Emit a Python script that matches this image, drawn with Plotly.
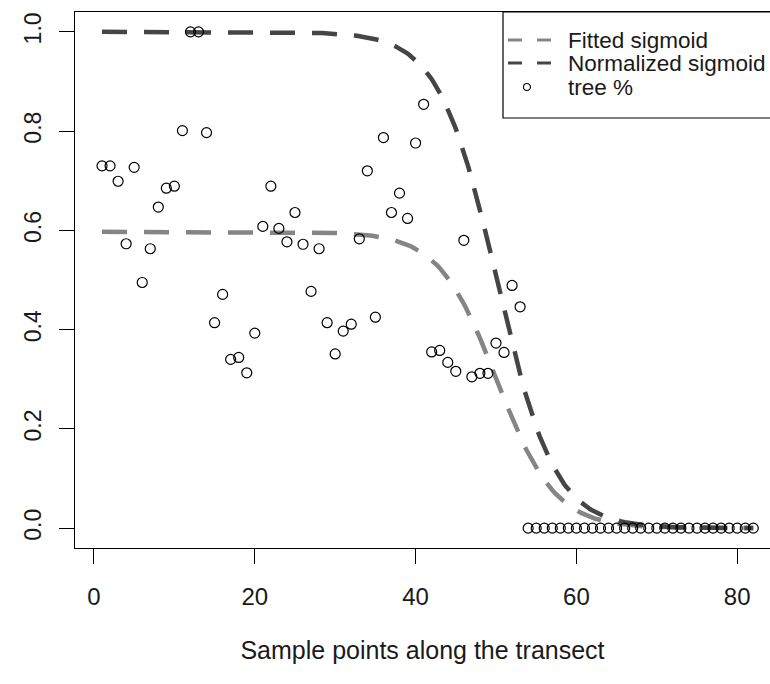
import numpy as np
import plotly.graph_objects as go

# Observed tree cover fraction at each sample point along the transect
sample_index = list(range(1, 83))
tree_pct = [
    0.730, 0.730, 0.699, 0.573, 0.727, 0.495, 0.563, 0.647, 0.685, 0.689,
    0.801, 1.000, 1.000, 0.797, 0.414, 0.471, 0.340, 0.344, 0.313, 0.393,
    0.608, 0.689, 0.604, 0.577, 0.636, 0.572, 0.477, 0.563, 0.414, 0.351,
    0.397, 0.411, 0.583, 0.720, 0.425, 0.787, 0.636, 0.675, 0.624, 0.776,
    0.854, 0.355, 0.358, 0.334, 0.316, 0.580, 0.305, 0.312, 0.312, 0.373,
    0.354, 0.489, 0.446,
] + [0.0] * 29

# Logistic fit parameters: plateau height, midpoint and scale
fitted_top = 0.597
midpoint = 50.1
scale = 3.6

x_ticks = [0, 20, 40, 60, 80]
y_ticks = [0.0, 0.2, 0.4, 0.6, 0.8, 1.0]
y_tick_text = ["0.0", "0.2", "0.4", "0.6", "0.8", "1.0"]

legend_labels = ["Fitted sigmoid", "Normalized sigmoid", "tree %"]

fitted_color = "#858585"
normalized_color = "#454545"
text_color = "#1a1a1a"
font_family = "Liberation Sans, Arial, sans-serif"

curve_x = np.linspace(1, 82, 300)
normalized_curve = 1.0 / (1.0 + np.exp((curve_x - midpoint) / scale))
fitted_curve = fitted_top * normalized_curve

fig = go.Figure()
fig.add_trace(go.Scatter(
    x=curve_x, y=fitted_curve, mode="lines", name=legend_labels[0],
    line=dict(color=fitted_color, width=4.5, dash="25px,17px"),
    showlegend=False,
))
fig.add_trace(go.Scatter(
    x=curve_x, y=normalized_curve, mode="lines", name=legend_labels[1],
    line=dict(color=normalized_color, width=4.5, dash="25px,17px"),
    showlegend=False,
))
fig.add_trace(go.Scatter(
    x=sample_index, y=tree_pct, mode="markers", name=legend_labels[2],
    marker=dict(symbol="circle-open", size=10, color="black",
                line=dict(width=1.2, color="black")),
    showlegend=False,
))

# Plot-area geometry in pixels, used to place the boxed key
W, H = 770, 684
ML, MR, MT, MB = 75, 0, 12, 136
pw, ph = W - ML - MR, H - MT - MB


def px_x(p):
    return (p - ML) / pw


def px_y(p):
    return (H - MB - p) / ph


shapes = [
    dict(type="rect", xref="paper", yref="paper",
         x0=px_x(503), x1=1.02, y0=px_y(118), y1=1.0,
         line=dict(color="black", width=1.2), fillcolor="white", layer="above"),
]
row_y = [40, 63, 87]
for yy, col in zip(row_y[:2], [fitted_color, normalized_color]):
    shapes.append(dict(type="line", xref="paper", yref="paper",
                       x0=px_x(508), x1=px_x(551), y0=px_y(yy), y1=px_y(yy),
                       line=dict(color=col, width=3, dash="14px,15px"),
                       layer="above"))
shapes.append(dict(type="circle", xref="paper", yref="paper",
                   xsizemode="pixel", ysizemode="pixel",
                   xanchor=px_x(527), yanchor=px_y(row_y[2]),
                   x0=-3.5, x1=3.5, y0=-3.5, y1=3.5,
                   line=dict(color="black", width=1.1), layer="above"))

annotations = [
    dict(xref="paper", yref="paper", x=px_x(566), y=px_y(yy),
         xanchor="left", yanchor="middle", text=lab, showarrow=False,
         font=dict(size=22.5, color=text_color, family=font_family))
    for yy, lab in zip(row_y, legend_labels)
]

fig.update_layout(
    width=W, height=H,
    margin=dict(l=ML, r=MR, t=MT, b=MB, pad=0),
    paper_bgcolor="white", plot_bgcolor="white",
    font=dict(family=font_family, color=text_color),
    shapes=shapes, annotations=annotations,
    showlegend=False,
)
fig.update_xaxes(
    range=[-2.36, 84.08], tickvals=x_ticks, ticks="outside", ticklen=15,
    tickwidth=1.2, tickcolor="black", showline=True, linecolor="black",
    linewidth=1.2, mirror=True, showgrid=False, zeroline=False,
    tickfont=dict(size=24, color=text_color), ticklabelstandoff=12,
    title=dict(text="Sample points along the transect",
               font=dict(size=25, color=text_color), standoff=32),
)
fig.update_yaxes(
    range=[-0.04, 1.04], tickvals=y_ticks, ticktext=y_tick_text,
    ticks="outside", ticklen=15, tickwidth=1.2, tickcolor="black",
    showline=True, linecolor="black", linewidth=1.2, mirror=False,
    showgrid=False, zeroline=False, tickangle=-90,
    tickfont=dict(size=23, color=text_color), ticklabelstandoff=9,
)

fig.write_html("out.html")
